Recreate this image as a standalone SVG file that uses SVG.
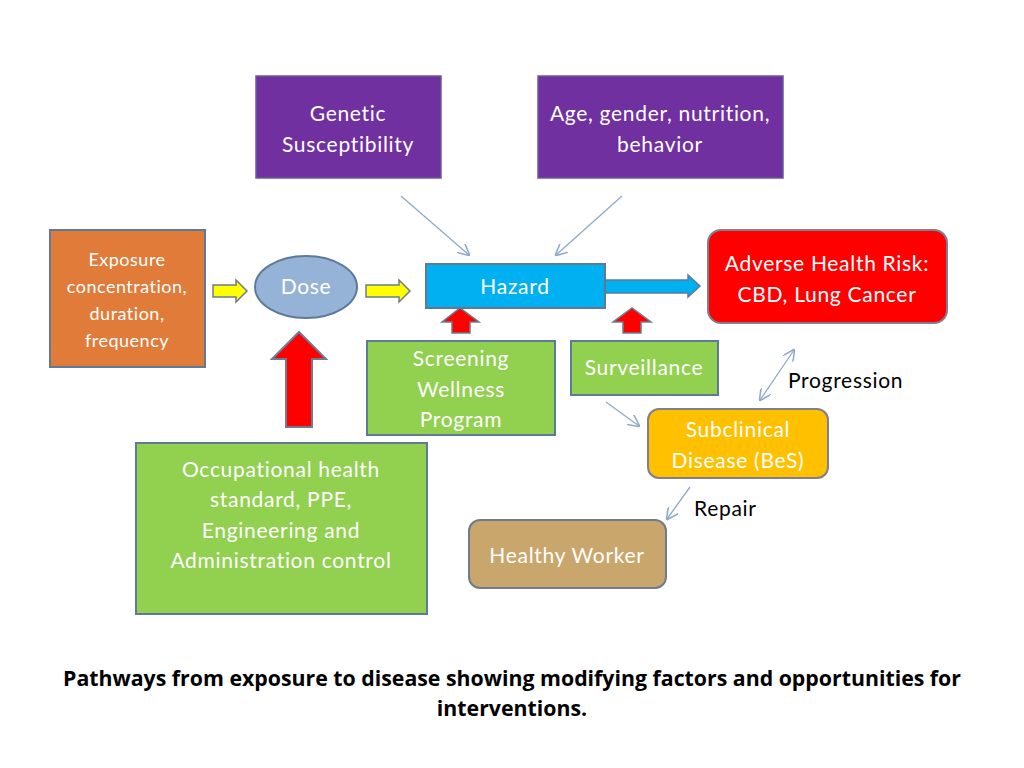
<svg xmlns="http://www.w3.org/2000/svg" width="1024" height="768" viewBox="0 0 1024 768">
<defs>
<style>
.lbl{font-family:Lato,"Open Sans","Liberation Sans",sans-serif;fill:#FFFFFF;text-anchor:middle;font-size:21px;letter-spacing:0.7px}
.sm{font-size:18px;letter-spacing:0.5px}
.blk{font-family:Lato,"Open Sans","Liberation Sans",sans-serif;fill:#000;font-size:21px;letter-spacing:0.7px}
.cap{font-family:"Open Sans","Liberation Sans",sans-serif;font-weight:bold;font-size:21.3px;text-anchor:middle;fill:#000}
.box{stroke:#5F7A99;stroke-width:2}
.thin{stroke:#8FA9C9;stroke-width:1.3;fill:none}
.bigarrow{stroke:#6E7C8E;stroke-width:2}
</style>
<marker id="ah" viewBox="0 0 10 10" refX="9" refY="5" markerWidth="12" markerHeight="12" markerUnits="userSpaceOnUse" orient="auto-start-reverse">
<path d="M0,0 L10,5 L0,10" fill="none" stroke="#8FA9C9" stroke-width="1.3"/>
</marker>
</defs>
<rect width="1024" height="768" fill="#FFFFFF"/>

<g id="connectors">
<line class="thin" x1="401" y1="196" x2="469" y2="255" marker-end="url(#ah)"/>
<line class="thin" x1="622" y1="196" x2="556" y2="255" marker-end="url(#ah)"/>
<line class="thin" x1="606" y1="402" x2="639" y2="426" marker-end="url(#ah)"/>
<line class="thin" x1="794" y1="350" x2="760" y2="400" marker-start="url(#ah)" marker-end="url(#ah)"/>
<line class="thin" x1="690" y1="487" x2="667" y2="519" marker-end="url(#ah)"/>
<polygon points="213,285 236,285 236,280 247,291 236,302 236,297 213,297" fill="#FFFF00" stroke="#6E7C8E" stroke-width="1.5"/>
<polygon points="366,285 399,285 399,280 410,291 399,302 399,297 366,297" fill="#FFFF00" stroke="#6E7C8E" stroke-width="1.5"/>
<polygon points="605,280 688,280 688,275 700,286 688,297 688,293 605,293" fill="#00B0F0" stroke="#5F7A99" stroke-width="1.5"/>
<polygon points="452,333 452,322 442,322 460,308 479,322 470,322 470,333" fill="#FF0000" stroke="#6E7C8E" stroke-width="1.5"/>
<polygon points="623,333 623,322 613,322 632,308 651,322 641,322 641,333" fill="#FF0000" stroke="#6E7C8E" stroke-width="1.5"/>
<polygon points="286,427 286,359 272,359 299,332 326,359 312,359 312,427" fill="#FF0000" class="bigarrow"/>
</g>

<g id="genetic">
<rect x="256" y="76" width="185" height="102" fill="#7030A0" stroke="#6A5A99" stroke-width="1.5"/>
<text class="lbl" x="348" y="121">Genetic</text>
<text class="lbl" x="348" y="152">Susceptibility</text>
</g>
<g id="age">
<rect x="538" y="76" width="245" height="102" fill="#7030A0" stroke="#6A5A99" stroke-width="1.5"/>
<text class="lbl" x="660" y="121">Age, gender, nutrition,</text>
<text class="lbl" x="660" y="152">behavior</text>
</g>
<g id="exposure">
<rect x="50" y="230" width="155" height="137" fill="#E07B39" class="box"/>
<text class="lbl sm" x="127" y="266">Exposure</text>
<text class="lbl sm" x="127" y="293">concentration,</text>
<text class="lbl sm" x="127" y="320">duration,</text>
<text class="lbl sm" x="127" y="347">frequency</text>
</g>
<g id="dose">
<ellipse cx="306" cy="287" rx="51" ry="31" fill="#95B3D7" class="box"/>
<text class="lbl" x="306" y="294">Dose</text>
</g>
<g id="hazard">
<rect x="426" y="264" width="179" height="44" fill="#00B0F0" class="box"/>
<text class="lbl" x="515" y="294">Hazard</text>
</g>
<g id="adverse">
<rect x="708" y="230" width="239" height="93" rx="13" fill="#FF0000" stroke="#7F7F8F" stroke-width="2"/>
<text class="lbl" x="827" y="271" fill="#FFF5E5">Adverse Health Risk:</text>
<text class="lbl" x="827" y="302">CBD, Lung Cancer</text>
</g>
<g id="screening">
<rect x="367" y="341" width="188" height="94" fill="#92D050" class="box"/>
<text class="lbl" x="461" y="366">Screening</text>
<text class="lbl" x="461" y="397">Wellness</text>
<text class="lbl" x="461" y="427">Program</text>
</g>
<g id="surveillance">
<rect x="571" y="341" width="147" height="54" fill="#92D050" class="box"/>
<text class="lbl" x="644" y="375">Surveillance</text>
</g>
<g id="occupational">
<rect x="136" y="443" width="291" height="171" fill="#92D050" class="box"/>
<text class="lbl" x="281" y="477">Occupational health</text>
<text class="lbl" x="281" y="507">standard, PPE,</text>
<text class="lbl" x="281" y="538">Engineering and</text>
<text class="lbl" x="281" y="568">Administration control</text>
</g>
<g id="subclinical">
<rect x="648" y="409" width="180" height="69" rx="11" fill="#FFC000" stroke="#7F7F8F" stroke-width="2"/>
<text class="lbl" x="738" y="437">Subclinical</text>
<text class="lbl" x="738" y="468">Disease (BeS)</text>
</g>
<g id="healthy">
<rect x="469" y="520" width="197" height="68" rx="11" fill="#C9A66B" stroke="#6E7C8E" stroke-width="2"/>
<text class="lbl" x="567" y="563">Healthy Worker</text>
</g>
<g id="labels">
<text class="blk" x="788" y="388">Progression</text>
<text class="blk" x="694" y="516">Repair</text>
</g>
<g id="caption">
<text class="cap" x="512" y="686">Pathways from exposure to disease showing modifying factors and opportunities for</text>
<text class="cap" x="512" y="716">interventions.</text>
</g>
</svg>
